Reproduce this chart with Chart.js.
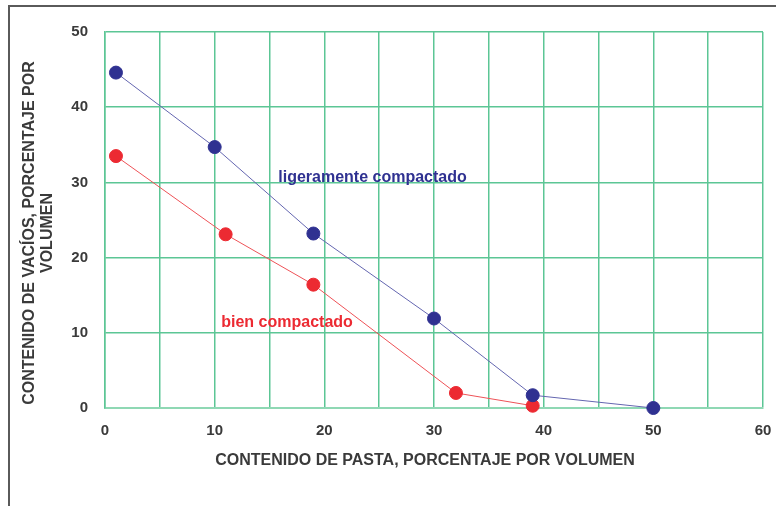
<!DOCTYPE html>
<html>
<head>
<meta charset="utf-8">
<script src="https://cdn.jsdelivr.net/npm/chart.js@4"></script>
<style>
    html, body { margin: 0; padding: 0; background: #fff; overflow: hidden; }
    #marco { position: absolute; left: 8px; top: 5px; width: 900px; height: 700px; border: 2px solid #5a5a5a; }
    #caja { position: absolute; left: 0; top: 0; width: 776px; height: 506px; }
</style>
</head>
<body>
<div id="marco"></div>
<div id="caja"><canvas id="myChart" width="776" height="506"></canvas></div>
<script>
// datos
const pastaLigero = [1, 10, 19, 30, 39, 50];
const vaciosLigero = [44.6, 34.7, 23.2, 11.9, 1.7, 0];
const pastaBien = [1, 11, 19, 32, 39];
const vaciosBien = [33.5, 23.1, 16.4, 2.0, 0.3];

const xTickLabels = [0, 10, 20, 30, 40, 50, 60];
const yTickLabels = [0, 10, 20, 30, 40, 50];

const xTitle = 'CONTENIDO DE PASTA, PORCENTAJE POR VOLUMEN';
const yTitle = ['CONTENIDO DE VACÍOS, PORCENTAJE POR', 'VOLUMEN'];
const serieLigero = 'ligeramente compactado';
const serieBien = 'bien compactado';

const fuente = '"Liberation Sans", Arial, sans-serif';
const azul = '#2f3191';
const rojo = '#ec2a32';

function puntos(xs, ys) {
    return xs.map((v, i) => ({ x: v, y: ys[i] }));
}

// textos: titulos de ejes y etiquetas de las curvas
const textos = {
    id: 'textos',
    afterDraw(chart) {
        const { ctx, scales: { x, y } } = chart;
        ctx.save();
        ctx.font = 'bold 16px ' + fuente;
        ctx.fillStyle = '#3a3a3a';
        ctx.textAlign = 'center';
        ctx.textBaseline = 'middle';
        ctx.fillText(xTitle, 425, 461);

        ctx.save();
        ctx.translate(30, 233);
        ctx.rotate(-Math.PI / 2);
        ctx.fillText(yTitle[0], 0, 0);
        ctx.fillText(yTitle[1], 0, 18);
        ctx.restore();

        ctx.textAlign = 'left';
        ctx.fillStyle = azul;
        ctx.fillText(serieLigero, x.getPixelForValue(15.8), y.getPixelForValue(30.7));
        ctx.fillStyle = rojo;
        ctx.fillText(serieBien, x.getPixelForValue(10.6), y.getPixelForValue(11.3));
        ctx.restore();
    }
};

const ctx = document.getElementById('myChart').getContext('2d');

new Chart(ctx, {
    type: 'scatter',
    data: {
        datasets: [{
            label: serieLigero,
            data: puntos(pastaLigero, vaciosLigero),
            showLine: true,
            clip: false,
            borderColor: '#6466b0',
            borderWidth: 1,
            pointBackgroundColor: azul,
            pointBorderColor: azul,
            pointRadius: 6.5,
            pointHoverRadius: 6.5
        }, {
            label: serieBien,
            data: puntos(pastaBien, vaciosBien),
            showLine: true,
            clip: false,
            borderColor: '#ee5257',
            borderWidth: 1,
            pointBackgroundColor: rojo,
            pointBorderColor: rojo,
            pointRadius: 6.5,
            pointHoverRadius: 6.5
        }]
    },
    options: {
        responsive: false,
        animation: false,
        layout: { padding: { top: 32, right: 13, left: 0, bottom: 0 } },
        plugins: {
            legend: { display: false },
            tooltip: { enabled: false }
        },
        scales: {
            x: {
                type: 'linear',
                min: 0,
                max: 60,
                afterFit: s => { s.height = 98; s.paddingLeft = 0; s.paddingRight = 0; },
                grid: { color: '#5cc695', lineWidth: 1.5, drawTicks: false },
                border: { color: '#8fd8b4', width: 2 },
                ticks: {
                    stepSize: 5,
                    padding: 14,
                    color: '#3a3a3a',
                    font: { family: fuente, size: 15, weight: 'bold' },
                    callback: v => xTickLabels.includes(v) ? v : ''
                }
            },
            y: {
                min: 0,
                max: 50,
                afterFit: s => { s.width = 105; s.paddingTop = 0; s.paddingBottom = 0; },
                grid: { color: '#5cc695', lineWidth: 1.5, drawTicks: false },
                border: { color: '#5cc695', width: 1.5 },
                ticks: {
                    stepSize: 10,
                    padding: 17,
                    color: '#3a3a3a',
                    font: { family: fuente, size: 15, weight: 'bold' },
                    callback: v => yTickLabels.includes(v) ? v : ''
                }
            }
        }
    },
    plugins: [textos]
});
</script>
</body>
</html>
